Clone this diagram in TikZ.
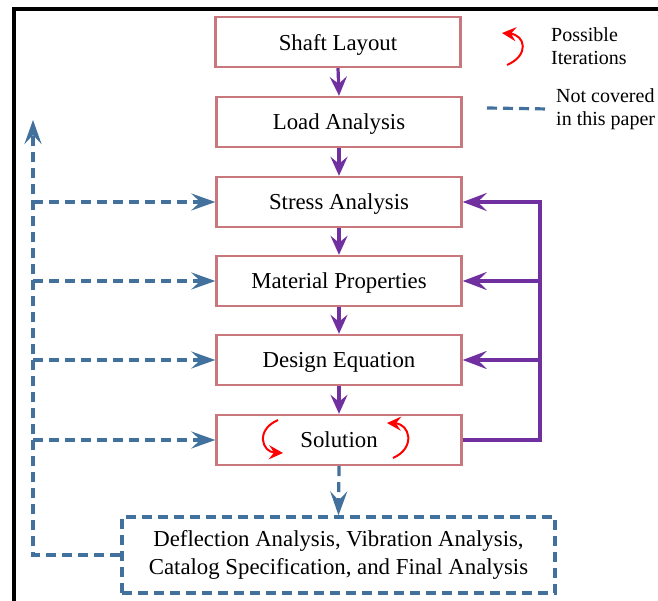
\documentclass[tikz,border=0pt]{standalone}
\usepackage{fontspec}
\setmainfont{Liberation Serif}
\usetikzlibrary{arrows.meta}
\definecolor{boxred}{RGB}{200,120,125}
\definecolor{purp}{RGB}{112,48,160}
\definecolor{dblue}{RGB}{65,113,156}
\begin{document}
\begin{tikzpicture}[x=1pt,y=-1pt,
 stepbox/.style={draw=boxred,line width=2.4pt,fill=white,minimum width=245pt,minimum height=50pt,inner sep=0pt,text depth=0pt,font=\fontsize{22.8}{27}\selectfont},
 flow/.style={draw=purp,line width=3.2pt,-{Stealth[length=19pt,width=17pt,inset=7pt]}},
 fb/.style={draw=purp,line width=3.2pt},
 fbarrow/.style={fb,-{Stealth[length=24pt,width=18pt,inset=9pt]}},
 dsh/.style={draw=dblue,line width=3.2pt,dash pattern=on 10pt off 6pt},
 dsharrow/.style={dsh,-{Stealth[length=24pt,width=17pt,inset=9pt]}},
 iter/.style={draw=red,line width=2pt,-{Stealth[length=14pt,width=14pt,inset=5pt]}},
 legtext/.style={anchor=west,align=left,inner sep=2pt,font=\fontsize{20}{23}\selectfont},
]
\useasboundingbox (0,0) rectangle (658,601);
% frame
\draw[line width=4pt] (14,601) -- (14,9) -- (658,9);
% boxes
\node[stepbox] (s1) at (338,42) {Shaft Layout};
\node[stepbox] (s2) at (339,122) {Load Analysis};
\node[stepbox] (s3) at (339,202) {Stress Analysis};
\node[stepbox] (s4) at (339,281) {Material Properties};
\node[stepbox] (s5) at (339,360) {Design Equation};
\node[stepbox] (s6) at (339,440) {Solution};
\node[dsh,minimum width=433pt,minimum height=76pt,align=center,inner sep=0pt,
  font=\fontsize{22.8}{28}\selectfont] (fin) at (338.5,555)
  {Deflection Analysis, Vibration Analysis,\\Catalog Specification, and Final Analysis};
% flow arrows
\draw[flow] (s1.south) -- (s2.north);
\draw[flow] (s2.south) -- (s3.north);
\draw[flow] (s3.south) -- (s4.north);
\draw[flow] (s4.south) -- (s5.north);
\draw[flow] (s5.south) -- (s6.north);
% feedback
\coordinate (rx) at (540,0);
\draw[fbarrow] (s6.east) -| (rx |- s3.east) -- (s3.east);
\draw[fbarrow] (rx |- s4.east) -- (s4.east);
\draw[fbarrow] (rx |- s5.east) -- (s5.east);
% dashed
\coordinate (lx) at (33,0);
\coordinate (ltop) at (33,120);
\draw[dsharrow] (fin.west) -| (ltop);
\draw[dsharrow] (lx |- s3.west) -- (s3.west);
\draw[dsharrow] (lx |- s4.west) -- (s4.west);
\draw[dsharrow] (lx |- s5.west) -- (s5.west);
\draw[dsharrow] (lx |- s6.west) -- (s6.west);
\draw[dsharrow] (s6.south) -- (fin.north);
% iteration arrows
\draw[iter] (278,420) .. controls (255,430) and (262,452) .. (283,453);
\draw[iter] (393,458) .. controls (416,448) and (410,424) .. (387,423);
% legend
\draw[iter] (507,65) .. controls (530,55) and (525,35) .. (502,33);
\node[legtext] (leg1) at (549,46) {Possible\\Iterations};
\node[legtext] (leg2) at (554,109) {Not covered\\in this paper};
\coordinate (legd) at (487,108);
\draw[dsh] (legd) -- ([xshift=-5pt]leg2.west);
\end{tikzpicture}
\end{document}
